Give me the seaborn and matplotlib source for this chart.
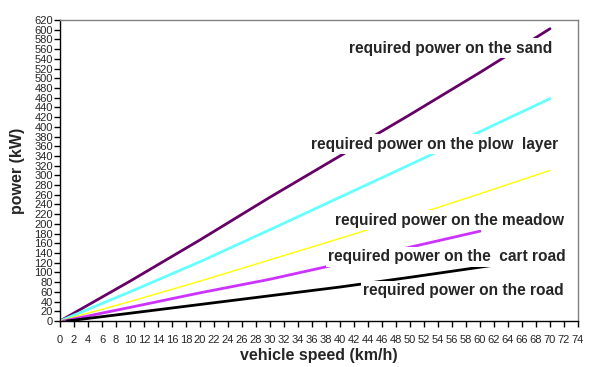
import numpy as np
import pandas as pd
import matplotlib
matplotlib.use('Agg')
import matplotlib.pyplot as plt
import seaborn as sns

sns.set_style('white')
plt.rcParams['font.family'] = ['Liberation Sans', 'DejaVu Sans']

# values (speed km/h, power kW)
speed_long = [0, 10, 20, 30, 40, 50, 60, 70]
sand = [0, 82, 167, 255, 340, 425, 512, 602]
plow = [0, 60, 122, 188, 255, 322, 390, 458]
meadow = [0, 40, 82, 126, 170, 215, 262, 310]
speed_cart = [0.5, 10, 20, 30, 40, 50, 60]
cart_road = [0, 28, 58, 86, 118, 152, 185]
speed_road = [1, 10, 20, 30, 40, 50, 62]
road = [0, 16, 34, 52, 70, 90, 115]

names = ['sand', 'plow', 'meadow', 'cart', 'road']
colors = {'sand': '#660066', 'plow': '#66FFFF', 'meadow': '#FFFF00',
          'cart': '#CC33FF', 'road': '#000000'}
widths = {'sand': 2, 'plow': 2, 'meadow': 1, 'cart': 2, 'road': 2}

labels = [('required power on the sand', 451, 48),
          ('required power on the plow  layer', 435, 144),
          ('required power on the meadow', 450, 220),
          ('required power on the  cart road', 447, 257),
          ('required power on the road', 463, 291)]

frames = [
    pd.DataFrame({'speed': speed_long, 'power': sand, 'surface': 'sand'}),
    pd.DataFrame({'speed': speed_long, 'power': plow, 'surface': 'plow'}),
    pd.DataFrame({'speed': speed_long, 'power': meadow, 'surface': 'meadow'}),
    pd.DataFrame({'speed': speed_cart, 'power': cart_road, 'surface': 'cart'}),
    pd.DataFrame({'speed': speed_road, 'power': road, 'surface': 'road'}),
]
df = pd.concat(frames, ignore_index=True)

fig = plt.figure(figsize=(5.91, 3.67), dpi=100)
ax = fig.add_axes([60 / 591, 46 / 367, 518 / 591, 301 / 367])

for name in names:
    sub = df[df['surface'] == name]
    sns.lineplot(data=sub, x='speed', y='power', color=colors[name],
                 linewidth=widths[name], ax=ax, legend=False)

ax.set_xlim(0, 74)
ax.set_ylim(0, 620)
ax.set_xticks(np.arange(0, 75, 2))
ax.set_yticks(np.arange(0, 621, 20))
ax.tick_params(axis='both', direction='out', length=4, width=1, color='black',
               labelsize=8, pad=1)
ax.tick_params(axis='x', pad=6)
ax.tick_params(bottom=True, left=True)

for side in ['left', 'bottom']:
    ax.spines[side].set_color('black')
    ax.spines[side].set_linewidth(1)
for side in ['top', 'right']:
    ax.spines[side].set_color('#808080')
    ax.spines[side].set_linewidth(1)

ax.set_xlabel('vehicle speed (km/h)', fontsize=11.5, fontweight='bold', labelpad=2)
ax.set_ylabel('power (kW)', fontsize=11.5, fontweight='bold', labelpad=7)

for text, px, py in labels:
    fig.text(px / 591, 1 - py / 367, text, ha='center', va='center',
             fontsize=11.2, fontweight='bold', zorder=5,
             bbox=dict(facecolor='white', edgecolor='none', pad=1.5))

fig.savefig('out.png', dpi=100)
